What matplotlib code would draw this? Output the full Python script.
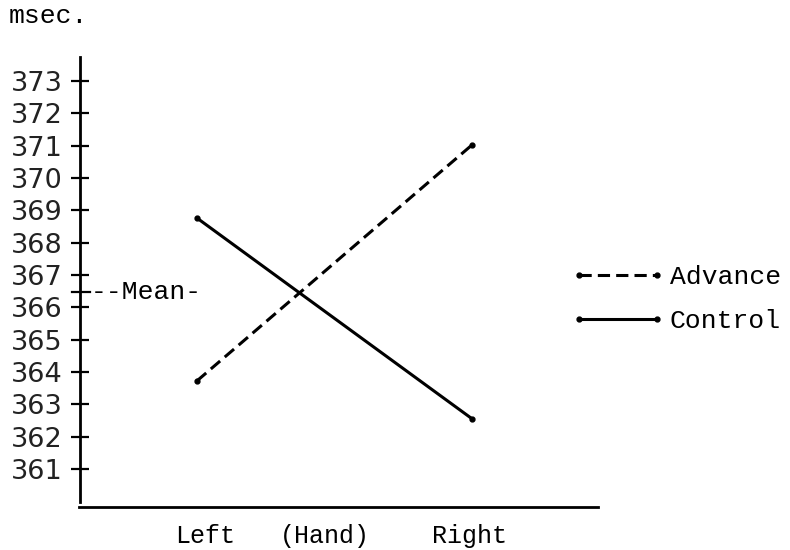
import matplotlib
matplotlib.use('Agg')
import matplotlib.pyplot as plt

#values (msec.)
hands = ['Left', 'Right']
advance = [363.72, 371.02]
control = [368.76, 362.55]
mean_value = 366.47
yticks = list(range(361, 374))
xlabels = ['Left', '(Hand)', 'Right']

mono = 'Liberation Mono'

fig = plt.figure(figsize=(7.9, 5.5), dpi=100)
#axes box in pixels: spine x=80..598, y=57..507
ax = fig.add_axes([80/790, 1-507/550, (598-80)/790, (507-57)/550])

xpos = [0, 1]
ax.plot(xpos, advance, color='black', lw=2.2, linestyle=(0, (4, 2)),
        marker='o', markersize=3.5, label='Advance')
ax.plot(xpos, control, color='black', lw=2.2, solid_capstyle='round',
        marker='o', markersize=3.5, label='Control')

ax.set_xlim(-0.425, 1.458)
ax.set_ylim(359.82, 373.74)

#y axis with crossing ticks
ax.set_yticks(yticks)
ax.set_yticklabels([str(v) for v in yticks], fontsize=19.5, family='DejaVu Sans',
                   color='#222222')
ax.tick_params(axis='y', direction='inout', length=13, width=1.6, pad=6)
ax.spines['left'].set_bounds(359.98, 373.74)

#x axis labels without tick marks
ax.set_xticks([0.03, 0.465, 0.99])
ax.set_xticklabels(xlabels, fontsize=18, family=mono)
ax.tick_params(axis='x', length=0, pad=12)

for s in ['top', 'right']:
    ax.spines[s].set_visible(False)
ax.spines['left'].set_linewidth(2)
ax.spines['bottom'].set_linewidth(2)
ax.spines['bottom'].set_bounds(-0.43, 1.458)

#mean marker
ax.plot([-0.455, -0.39], [mean_value, mean_value], color='black', lw=1.6, clip_on=False)
ax.text(-0.385, mean_value, '--Mean-', fontsize=19, family=mono, ha='left', va='center')

#unit label
fig.text(9/790, 1-23/550, 'msec.', fontsize=19, family=mono, ha='left', va='baseline')

#legend to the right of the plot
leg = fig.legend(loc='center left', bbox_to_anchor=(571/790, 1-299/550), frameon=False,
                 prop={'family': mono, 'size': 19}, handlelength=3.55, numpoints=2,
                 handletextpad=0.2, labelspacing=0.75, borderpad=0, borderaxespad=0)

fig.savefig('out.png', dpi=100)
